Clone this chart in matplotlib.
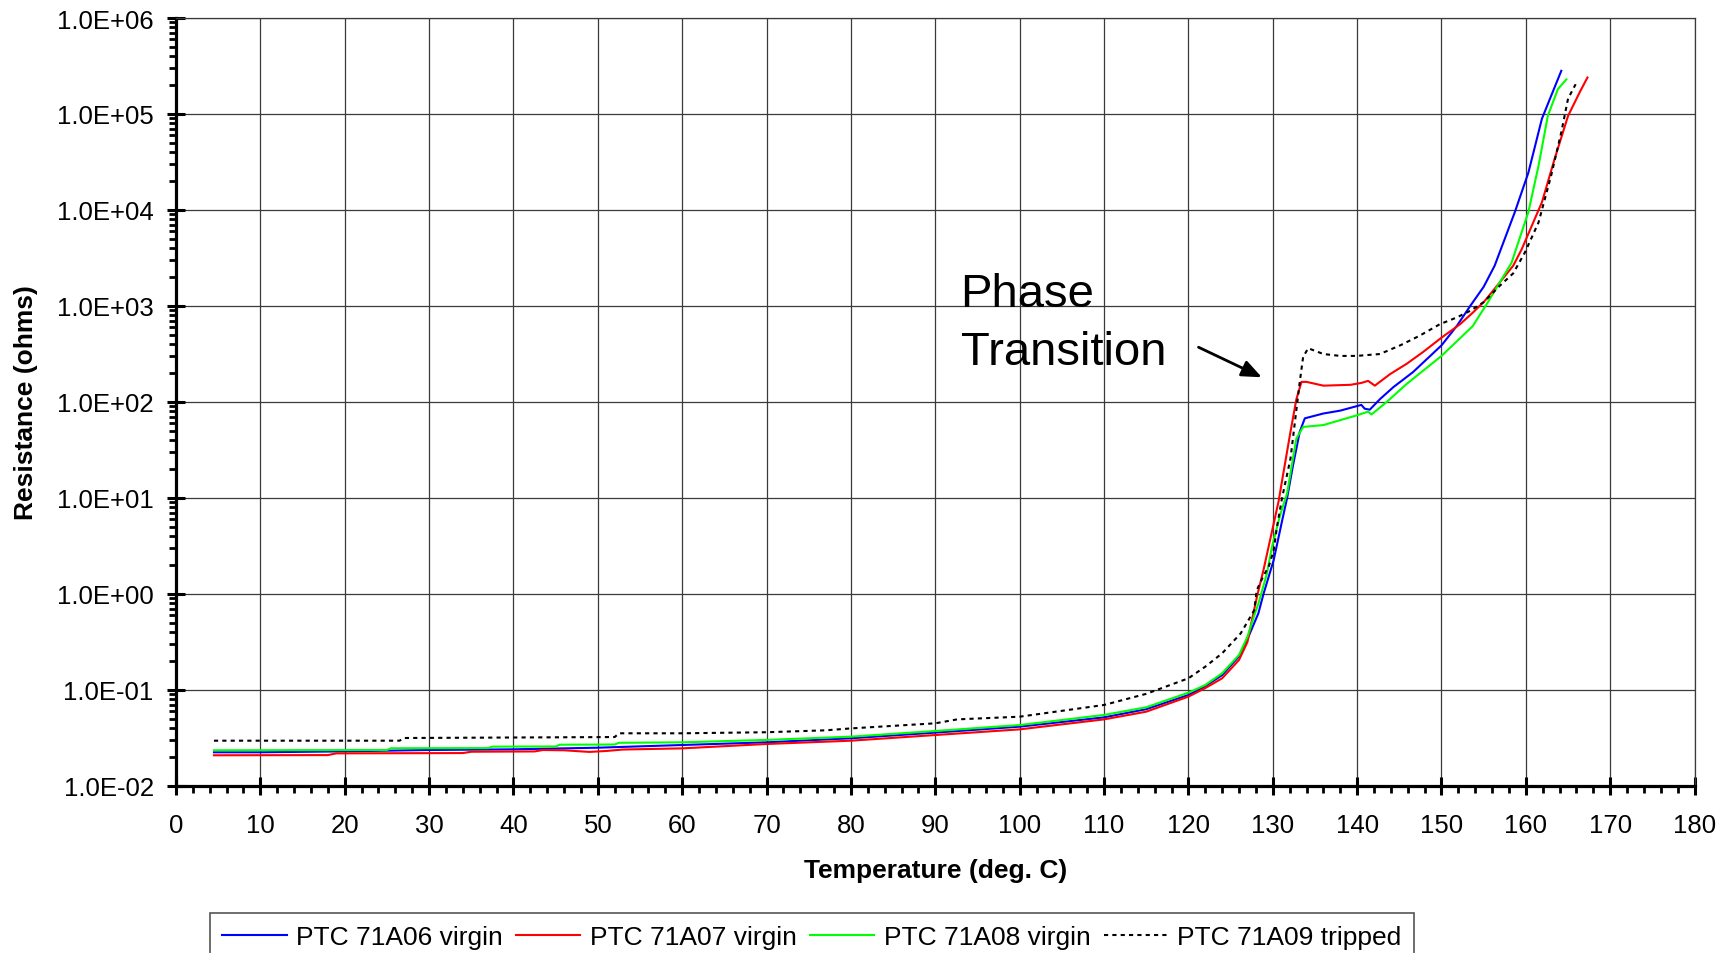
import matplotlib
matplotlib.use("Agg")
import matplotlib.pyplot as plt
from matplotlib.ticker import MultipleLocator, LogLocator, FuncFormatter, NullFormatter
from matplotlib.lines import Line2D

plt.rcParams['font.family'] = ['Liberation Sans', 'DejaVu Sans']

# ---- measured data: temperature (deg C) and resistance (ohms) ----
t_71a06 = [4.5, 10, 20, 30, 40, 50, 60, 70, 80, 90, 100, 110, 115, 120, 122, 124,
           126, 127, 128.3, 128.9, 130.1, 131.1, 131.7, 132.4, 133.2, 133.8, 136,
           138, 140.5, 140.9, 141.5, 142.7, 144.3, 146.6, 150, 151.8, 153.4, 155,
           156.3, 157.5, 158.7, 160.3, 161.9, 163, 164.2]
r_71a06 = [0.02244, 0.02244, 0.02296, 0.02371, 0.0241, 0.02506, 0.02673, 0.02851,
           0.03141, 0.03597, 0.0415, 0.05188, 0.0631, 0.08872, 0.1096, 0.1429,
           0.2239, 0.3388, 0.631, 1.0, 2.239, 5.754, 10.0, 21.9, 49.0, 67.6, 75.9,
           81.3, 93.3, 85.1, 83.2, 107, 143, 204, 389, 617, 1000, 1585,
           2630, 5012, 9550, 24550, 89125, 154900, 281800]

t_71a07 = [4.5, 18, 19, 34, 35, 42.5, 43.5, 46, 49, 51, 53, 60, 70, 80, 90, 100,
           110, 115, 120, 122, 124, 126, 127, 127.7, 128.2, 128.9, 129.5, 130.1,
           130.7, 131.1, 132.1, 132.8, 133.4, 134, 136, 139.2, 140.5, 141.3, 142.1,
           143.9, 145.9, 147.8, 150, 152.2, 153.7, 155.1, 156.3, 158.5, 159.5,
           161.9, 163.4, 165, 166.4, 167.3]
r_71a07 = [0.02089, 0.02099, 0.02188, 0.02203, 0.02275, 0.02291, 0.02371, 0.02355,
           0.02265, 0.02317, 0.02399, 0.02466, 0.02739, 0.02965, 0.03396, 0.0389,
           0.04943, 0.05943, 0.08531, 0.1047, 0.1324, 0.2056, 0.3162, 0.631, 1.0,
           1.778, 3.09, 5.37, 9.33, 15.1, 49.0, 107, 162, 162, 148, 151, 158, 166,
           148, 195, 251, 331, 468, 646, 851, 1122, 1514, 2630, 3890,
           12020, 33880, 95500, 169800, 239900]

t_71a08 = [4.5, 25, 25.5, 37, 37.5, 45, 45.5, 52, 52.5, 60, 70, 80, 90, 100, 110,
           115, 120, 122, 124, 126, 127, 127.9, 128.3, 129.3, 129.9, 130.9, 131.7,
           132.8, 133.6, 136, 139.9, 141.3, 141.7, 143.5, 145.9, 150, 153.7, 155.5,
           158.3, 160.3, 161.5, 162.6, 163.8, 164.8]
r_71a08 = [0.02355, 0.02371, 0.02472, 0.02483, 0.0257, 0.02582, 0.02692, 0.02704,
           0.02818, 0.02851, 0.0302, 0.03266, 0.03741, 0.04315, 0.05495, 0.06607,
           0.09376, 0.1127, 0.1493, 0.2317, 0.3597, 0.631, 0.794, 1.622, 3.09,
           6.76, 11.2, 41.7, 55.0, 57.5, 72.4, 79.4, 74.1, 100, 155, 302, 617,
           1096, 2818, 9550, 28840, 95500, 182000, 229100]

t_71a09 = [4.5, 26.5, 27, 52, 52.5, 60, 70, 77, 80, 90, 92.6, 100, 110, 115, 120,
           122, 124, 126.2, 127.8, 128.1, 128.9, 129.5, 130.1, 130.5, 131.1, 132.1,
           133.2, 133.6, 134.2, 136, 138, 139.9, 142.7, 145.1, 147.4, 149.8, 151.8,
           153.4, 155, 156.9, 158.5, 159.9, 161.5, 163, 164.2, 165, 165.9]
r_71a09 = [0.02965, 0.02965, 0.03162, 0.03236, 0.0354, 0.0354, 0.03631, 0.03802,
           0.03981, 0.04498, 0.04943, 0.05272, 0.06982, 0.0912, 0.1324, 0.175,
           0.241, 0.389, 0.676, 1.096, 1.549, 1.905, 2.818, 5.01, 10.0, 25.7, 162,
           295, 363, 316, 302, 302, 316, 389, 490, 646, 759, 891, 1096, 1622,
           2188, 3631, 7413, 22910, 64570, 144500, 204200]

series_labels = ["PTC 71A06 virgin", "PTC 71A07 virgin",
                 "PTC 71A08 virgin", "PTC 71A09 tripped"]
x_ticks = list(range(0, 181, 10))

# ---- figure ----
W, H = 1733, 954
fig = plt.figure(figsize=(W / 100, H / 100), dpi=100)
ax_l, ax_r, ax_t, ax_b = 176, 1694.6, 19, 787
ax = fig.add_axes([ax_l / W, 1 - ax_b / H, (ax_r - ax_l) / W, (ax_b - ax_t) / H])

lw = 1.5
ax.plot(t_71a06, r_71a06, color="#0000FF", lw=lw, label=series_labels[0], zorder=3)
ax.plot(t_71a07, r_71a07, color="#FF0000", lw=lw, label=series_labels[1], zorder=3)
ax.plot(t_71a08, r_71a08, color="#00FF00", lw=lw, label=series_labels[2], zorder=3)
ax.plot(t_71a09, r_71a09, color="black", lw=lw, ls=(0, (2, 2)),
        label=series_labels[3], zorder=4)

ax.set_yscale("log")
ax.set_xlim(0, 180)
ax.set_ylim(1e-2, 1e6)

ax.set_xticks(x_ticks)
ax.xaxis.set_minor_locator(MultipleLocator(2))
ax.yaxis.set_major_locator(LogLocator(base=10, numticks=20))
ax.yaxis.set_minor_locator(LogLocator(base=10, subs=range(2, 10), numticks=100))
ax.yaxis.set_major_formatter(FuncFormatter(lambda v, p: f"{v:.1E}"))
ax.yaxis.set_minor_formatter(NullFormatter())

ax.grid(True, which="major", color="#3a3a3a", lw=0.9, zorder=1)
ax.set_axisbelow(True)

for s in ("left", "bottom"):
    ax.spines[s].set_linewidth(2.3)
    ax.spines[s].set_color("black")
for s in ("top", "right"):
    ax.spines[s].set_linewidth(0.9)
    ax.spines[s].set_color("#3a3a3a")

ax.tick_params(which="major", direction="inout", length=13.5, width=2.2,
               labelsize=18.5, colors="black")
ax.tick_params(axis="y", which="major", pad=9.3)
ax.tick_params(axis="x", which="major", pad=12.8)
ax.tick_params(which="minor", direction="out", length=5, width=2.0)
ax.tick_params(top=False, right=False, which="both")

ax.set_xlabel("Temperature (deg. C)", fontsize=19, fontweight="bold")
ax.set_ylabel("Resistance (ohms)", fontsize=19, fontweight="bold")
ax.xaxis.set_label_coords(0.5, -0.094)
ax.yaxis.set_label_coords(-0.091, 0.5)

# annotation
ax.text(93.0, 1000, "Phase", fontsize=34, ha="left", va="baseline")
ax.text(93.0, 249, "Transition", fontsize=34, ha="left", va="baseline")
ax.annotate("", xy=(128.7, 181), xytext=(121.2, 372),
            arrowprops=dict(arrowstyle="-|>,head_length=0.6,head_width=0.25",
                            color="black", lw=2, mutation_scale=20,
                            shrinkA=0, shrinkB=0))

handles = [Line2D([], [], color="#0000FF", lw=lw),
           Line2D([], [], color="#FF0000", lw=lw),
           Line2D([], [], color="#00FF00", lw=lw),
           Line2D([], [], color="black", lw=lw, ls=(0, (2, 2)))]
leg = fig.legend(handles, series_labels, loc="upper left",
                 bbox_to_anchor=(210 / W, 1 - 914 / H), ncol=4, fontsize=19,
                 frameon=True, fancybox=False, framealpha=1, edgecolor="#555555",
                 handlelength=2.45, handletextpad=0.35, columnspacing=0.5,
                 borderpad=0.45, borderaxespad=0)
leg.get_frame().set_linewidth(1.2)

fig.savefig("out.png", dpi=100)
